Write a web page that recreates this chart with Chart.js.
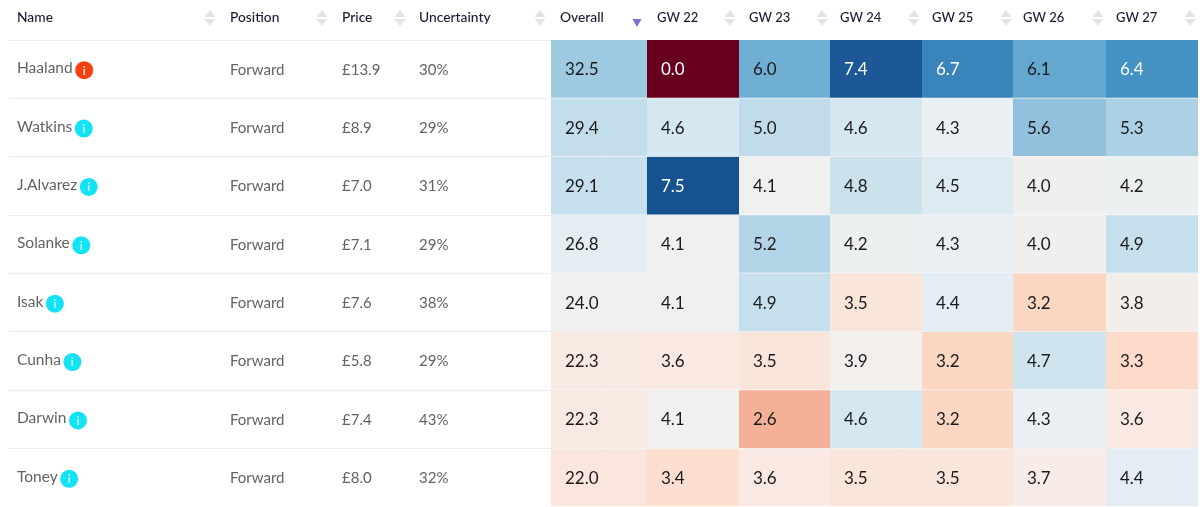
<!DOCTYPE html>
<html><head><meta charset="utf-8">
<style>html,body{margin:0;padding:0;background:#fff;overflow:hidden}canvas{display:block}</style>
<script src="https://cdn.jsdelivr.net/npm/chart.js@4"></script>
</head><body><canvas id="c" width="1200" height="507"></canvas>
<script>
// ---- data ----
const players = ['Haaland','Watkins','J.Alvarez','Solanke','Isak','Cunha','Darwin','Toney'];
const positions = ['Forward','Forward','Forward','Forward','Forward','Forward','Forward','Forward'];
const prices = ['£13.9','£8.9','£7.0','£7.1','£7.6','£5.8','£7.4','£8.0'];
const uncertainty = ['30%','29%','31%','29%','38%','29%','43%','32%'];
const alerts = ['flag','info','info','info','info','info','info','info'];
const overall = [32.5,29.4,29.1,26.8,24.0,22.3,22.3,22.0];
const gw22 = [0.0,4.6,7.5,4.1,4.1,3.6,4.1,3.4];
const gw23 = [6.0,5.0,4.1,5.2,4.9,3.5,2.6,3.6];
const gw24 = [7.4,4.6,4.8,4.2,3.5,3.9,4.6,3.5];
const gw25 = [6.7,4.3,4.5,4.3,4.4,3.2,3.2,3.5];
const gw26 = [6.1,5.6,4.0,4.0,3.2,4.7,4.3,3.7];
const gw27 = [6.4,5.3,4.2,4.9,3.8,3.3,3.6,4.4];
const textHeaders = ['Name','Position','Price','Uncertainty'];
const valueHeaders = ['Overall','GW 22','GW 23','GW 24','GW 25','GW 26','GW 27'];
const valueSeries = [overall,gw22,gw23,gw24,gw25,gw26,gw27];

// ---- layout and style ----
const textColumnX = [17,230,342,419];
const columnEdges = [551,647,739,830,922,1013,1106,1198];
const textCaretX = [210,322,400,540];
const valueCaretX = [null,730,822,914,1006,1098,1190];
const gwStops = [[0,'#67001f'],[2.6,'#f4b197'],[3.2,'#fbd6c3'],[3.4,'#fcdfd0'],[3.5,'#fae5db'],[3.6,'#f9e9e2'],[3.8,'#f4eeeb'],[4.1,'#f0f0f0'],[4.3,'#e9eff2'],[4.4,'#e3edf3'],[4.6,'#d5e7f0'],[5.0,'#c0dcea'],[5.3,'#acd1e5'],[5.6,'#91c1dd'],[6.0,'#6fafd3'],[6.4,'#4492c4'],[6.7,'#3a84bc'],[7.5,'#175290']];
const overallStops = [[22,'#fae6dd'],[22.3,'#f9e9e3'],[24,'#f0f0f0'],[26.8,'#e3edf2'],[29.1,'#c7e0ed'],[29.4,'#c3deeb'],[32.5,'#9dc9e1']];
const FONT = 'Lato, sans-serif';

function hex(c){return [1,3,5].map(i=>parseInt(c.slice(i,i+2),16));}
function colourFor(v,stops){
  if(v<=stops[0][0]) return stops[0][1];
  for(let i=1;i<stops.length;i++){
    if(v<=stops[i][0]){
      const t=(v-stops[i-1][0])/(stops[i][0]-stops[i-1][0]);
      const a=hex(stops[i-1][1]),b=hex(stops[i][1]);
      return 'rgb('+a.map((x,k)=>Math.round(x+(b[k]-x)*t)).join(',')+')';
    }
  }
  return stops[stops.length-1][1];
}
function isDark(col){
  const m=col.startsWith('#')?hex(col):col.match(/\d+/g).map(Number);
  return 0.299*m[0]+0.587*m[1]+0.114*m[2]<140;
}
const datasets = valueSeries.map((vals,j)=>({
  label:valueHeaders[j],
  values:vals,
  data:vals.map((v,i)=>({y:players[i],x:[columnEdges[j],columnEdges[j+1]]})),
  backgroundColor:vals.map(v=>colourFor(v,j===0?overallStops:gwStops)),
  borderColor:'rgba(255,255,255,0.3)',
  borderWidth:{top:0,left:0,right:0,bottom:1},
  borderSkipped:false,
  barPercentage:1,categoryPercentage:1,grouped:false
}));

function tri(ctx,x,y,w,h,color){
  ctx.fillStyle=color;ctx.beginPath();ctx.moveTo(x-w/2,y);ctx.lineTo(x+w/2,y);ctx.lineTo(x,y+h);ctx.closePath();ctx.fill();
}
function carets(ctx,x){
  tri(ctx,x,17,11,-7,'#e3e3e6');
  tri(ctx,x,19,11,7,'#e3e3e6');
}
const tablePlugin={
  id:'table',
  afterDatasetsDraw(chart){
    const {ctx,scales:{x,y}}=chart;
    ctx.save();
    ctx.textBaseline='middle';ctx.textAlign='left';
    // headers
    textHeaders.forEach((h,k)=>{
      ctx.fillStyle='#1d1836';ctx.font='500 13.8px '+FONT;
      ctx.fillText(h,x.getPixelForValue(textColumnX[k]),18);
      carets(ctx,x.getPixelForValue(textCaretX[k]));
    });
    valueHeaders.forEach((h,j)=>{
      ctx.fillStyle='#1d1836';ctx.font=(j===0?'500 13.8px ':'500 13px ')+FONT;
      ctx.fillText(h,x.getPixelForValue(columnEdges[j]+(j===0?9:10)),18);
      if(valueCaretX[j]!=null) carets(ctx,x.getPixelForValue(valueCaretX[j]));
    });
    tri(ctx,x.getPixelForValue(637),19,9,8,'#7b6fd8');
    // rows
    players.forEach((p,i)=>{
      const cy=y.getPixelForValue(i);
      ctx.fillStyle='#636363';ctx.font='400 15.5px '+FONT;
      ctx.fillText(p,x.getPixelForValue(textColumnX[0]),cy-1);
      const w=ctx.measureText(p).width;
      ctx.font='400 15px '+FONT;
      ctx.fillText(positions[i],x.getPixelForValue(textColumnX[1]),cy+0.5);
      ctx.fillText(prices[i],x.getPixelForValue(textColumnX[2]),cy+0.5);
      ctx.fillText(uncertainty[i],x.getPixelForValue(textColumnX[3]),cy+0.5);
      const ix=x.getPixelForValue(textColumnX[0])+w+11.5, iy=cy+1;
      ctx.fillStyle=alerts[i]==='flag'?'#f6400f':'#13e3f5';
      ctx.beginPath();ctx.arc(ix,iy,9,0,Math.PI*2);ctx.fill();
      ctx.fillStyle=alerts[i]==='flag'?'#ffe9e0':'#bff8fd';
      ctx.font='700 12px '+FONT;ctx.textAlign='center';
      ctx.fillText('i',ix,iy+0.5);
      ctx.textAlign='left';
    });
    // cell values
    chart.data.datasets.forEach((ds,j)=>{
      chart.getDatasetMeta(j).data.forEach((bar,i)=>{
        ctx.fillStyle=isDark(ds.backgroundColor[i])?'#ffffff':'#1a1a1a';
        ctx.font='400 17px '+FONT;
        ctx.fillText(ds.values[i].toFixed(1),Math.min(bar.x,bar.base)+14,bar.y+0.5);
      });
    });
    ctx.restore();
  }
};
new Chart(document.getElementById('c'),{
  type:'bar',
  data:{labels:players,datasets},
  options:{
    indexAxis:'y',responsive:false,animation:false,
    layout:{padding:{left:9,right:2,top:40,bottom:0}},
    plugins:{legend:{display:false},tooltip:{enabled:false}},
    scales:{
      x:{type:'linear',display:false,min:9,max:1198,grid:{display:false}},
      y:{type:'category',offset:true,
         grid:{color:'#ececec',offset:true,drawTicks:false},
         border:{display:false},
         ticks:{display:false},
         afterFit(s){s.width=0;}}
    }
  },
  plugins:[tablePlugin]
});
</script></body></html>
